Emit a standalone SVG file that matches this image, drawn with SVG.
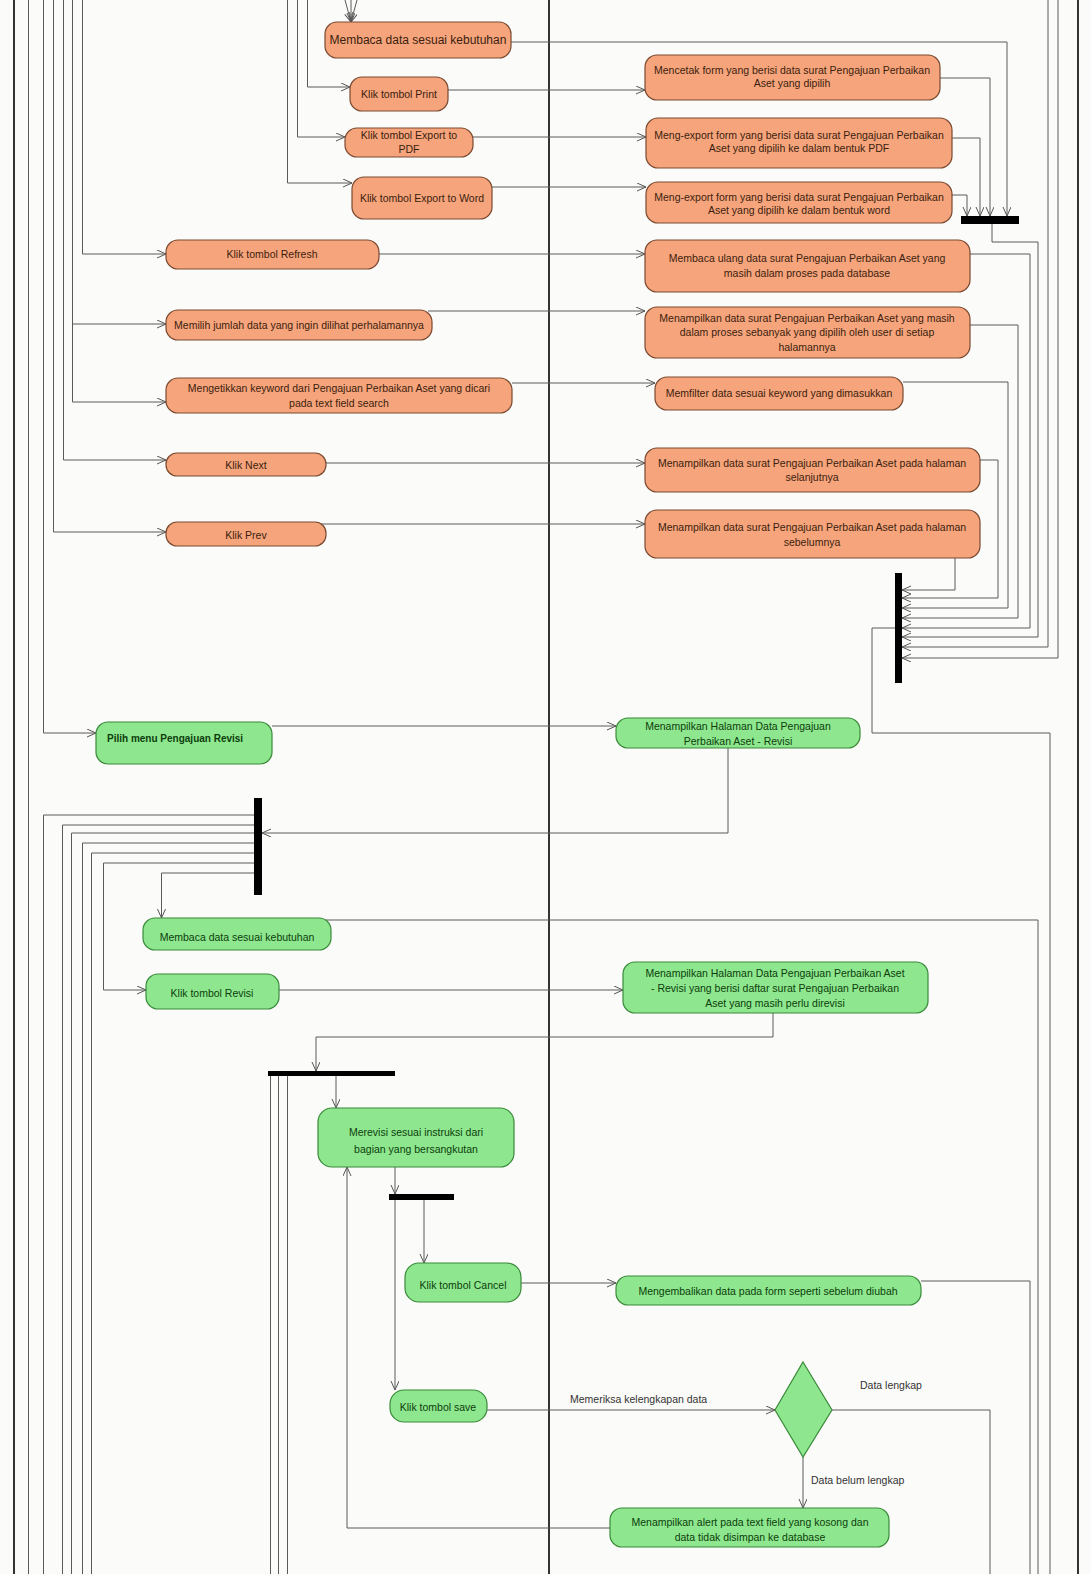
<svg xmlns="http://www.w3.org/2000/svg" width="1091" height="1574" viewBox="0 0 1091 1574">
<style>
.lane{stroke:#333;stroke-width:2;fill:none}
.c{stroke:#5a5a5a;stroke-width:1;fill:none;marker-end:url(#a)}
.cn{stroke:#5a5a5a;stroke-width:1;fill:none}
.o{fill:#f6a47c;stroke:#7a4a30;stroke-width:1.2}
.g{fill:#8ee78e;stroke:#3a8a3a;stroke-width:1.2}
.bar{fill:#000}
text{font-family:"Liberation Sans",Arial,sans-serif;font-size:10.5px}
.to{fill:#3b1e0e;text-anchor:middle}
.tg{fill:#0d3d0d;text-anchor:middle}
.lbl{fill:#333;font-size:10.5px}
</style>
<defs>
<marker id="a" markerWidth="10" markerHeight="10" refX="9" refY="4" orient="auto" markerUnits="userSpaceOnUse"><path d="M0,0 L9,4 L0,8" fill="none" stroke="#555" stroke-width="1"/></marker>
</defs>
<rect x="0" y="0" width="1091" height="1574" fill="#fbfbf9"/>
<g id="lanes">
<line class="lane" x1="14" y1="0" x2="14" y2="1574"/>
<line class="lane" x1="549" y1="0" x2="549" y2="1574"/>
<line class="lane" x1="1078" y1="0" x2="1078" y2="1574"/>
</g>
<g id="connectors">
<path class="cn" d="M28.5,0 V1574"/>
<path class="c" d="M43.5,0 V733 H96"/>
<path class="c" d="M53.5,0 V532 H166"/>
<path class="c" d="M63.5,0 V460 H166"/>
<path class="c" d="M72.5,0 V402 H166"/>
<path class="c" d="M72.5,324 H166"/>
<path class="c" d="M82.5,0 V254 H166"/>
<path class="c" d="M287.5,0 V183 H352"/>
<path class="c" d="M297.5,0 V137 H345"/>
<path class="c" d="M307.5,0 V87 H350"/>
<path class="c" d="M345,0 L351,22"/>
<path class="c" d="M351,0 V22"/>
<path class="c" d="M357,0 L351,22"/>
<path class="c" d="M511,42 H1007 V216"/>
<path class="c" d="M448,90 H645"/>
<path class="c" d="M473,137 H646"/>
<path class="c" d="M492,187 H646"/>
<path class="c" d="M940,78 H990 V216"/>
<path class="c" d="M952,138 H980 V216"/>
<path class="c" d="M952,195 H967 V216"/>
<path class="c" d="M992,224 V242 H1038 V637 H902"/>
<path class="c" d="M379,254 H645"/>
<path class="c" d="M428,311 H645"/>
<path class="c" d="M512,383 H655"/>
<path class="c" d="M326,463 H645"/>
<path class="c" d="M318,524 H645"/>
<path class="c" d="M970,254 H1030 V628 H902"/>
<path class="c" d="M970,325 H1018 V618 H902"/>
<path class="c" d="M903,382 H1008 V608 H902"/>
<path class="c" d="M980,460 H998 V598 H902"/>
<path class="c" d="M955,558 V590 H902"/>
<path class="c" d="M1048,0 V647 H902"/>
<path class="c" d="M1058,0 V658 H902"/>
<path class="cn" d="M895,628 H872 V733 H1050 V1574"/>
<path class="c" d="M272,726 H616"/>
<path class="c" d="M728,748 V833 H262"/>
<path class="cn" d="M254,815 H43.5 V1574"/>
<path class="cn" d="M254,825 H62.5 V1574"/>
<path class="cn" d="M254,833 H71.5 V1574"/>
<path class="cn" d="M254,843 H82.5 V1574"/>
<path class="cn" d="M254,853 H91.5 V1574"/>
<path class="c" d="M254,863 H103.5 V990 H146"/>
<path class="c" d="M254,873 H161.5 V918"/>
<path class="cn" d="M326,920 H1038 V1574"/>
<path class="c" d="M279,990 H623"/>
<path class="c" d="M773,1013 V1037 H316 V1071"/>
<path class="c" d="M336,1076 V1108"/>
<path class="cn" d="M270.5,1076 V1574"/>
<path class="cn" d="M278.5,1076 V1574"/>
<path class="cn" d="M287.5,1076 V1574"/>
<path class="c" d="M395,1167 V1194"/>
<path class="c" d="M395,1200 V1390"/>
<path class="c" d="M424,1200 V1263"/>
<path class="c" d="M521,1283 H616"/>
<path class="cn" d="M921,1281 H1030 V1574"/>
<path class="c" d="M487,1410 H775"/>
<path class="cn" d="M832,1410 H990 V1574"/>
<path class="c" d="M803,1457 V1508"/>
<path class="c" d="M610,1528 H347 V1167"/>
<text class="lbl" x="570" y="1403">Memeriksa kelengkapan data</text>
<text class="lbl" x="860" y="1389">Data lengkap</text>
<text class="lbl" x="811" y="1484">Data belum lengkap</text>
</g>
<g id="O1"><rect class="o" x="325" y="22" width="186" height="36" rx="12"/><text class="to" x="418" y="44" style="font-size:12px">Membaca data sesuai kebutuhan</text></g>
<g id="O2"><rect class="o" x="350" y="77" width="98" height="34" rx="12"/><text class="to" x="399" y="98">Klik tombol Print</text></g>
<g id="O3"><rect class="o" x="345" y="128" width="128" height="29" rx="12"/><text class="to" x="409" y="139">Klik tombol Export to</text><text class="to" x="409" y="153">PDF</text></g>
<g id="O4"><rect class="o" x="352" y="177" width="140" height="42" rx="12"/><text class="to" x="422" y="202">Klik tombol Export to Word</text></g>
<g id="R1"><rect class="o" x="645" y="55" width="295" height="45" rx="12"/><text class="to" x="792" y="74">Mencetak form yang berisi data surat Pengajuan Perbaikan</text><text class="to" x="792" y="87">Aset yang dipilih</text></g>
<g id="R2"><rect class="o" x="646" y="118" width="306" height="50" rx="12"/><text class="to" x="799" y="139">Meng-export form yang berisi data surat Pengajuan Perbaikan</text><text class="to" x="799" y="152">Aset yang dipilih ke dalam bentuk PDF</text></g>
<g id="R3"><rect class="o" x="646" y="182" width="306" height="41" rx="12"/><text class="to" x="799" y="201">Meng-export form yang berisi data surat Pengajuan Perbaikan</text><text class="to" x="799" y="214">Aset yang dipilih ke dalam bentuk word</text></g>
<g id="join1"><rect class="bar" x="961" y="216" width="58" height="8"/></g>
<g id="O5"><rect class="o" x="166" y="240" width="213" height="29" rx="12"/><text class="to" x="272" y="258">Klik tombol Refresh</text></g>
<g id="R4"><rect class="o" x="645" y="240" width="325" height="52" rx="12"/><text class="to" x="807" y="262">Membaca ulang data surat Pengajuan Perbaikan Aset yang</text><text class="to" x="807" y="277">masih dalam proses pada database</text></g>
<g id="O6"><rect class="o" x="166" y="310" width="266" height="30" rx="12"/><text class="to" x="299" y="329">Memilih jumlah data yang ingin dilihat perhalamannya</text></g>
<g id="R5"><rect class="o" x="645" y="307" width="325" height="51" rx="12"/><text class="to" x="807" y="322">Menampilkan data surat Pengajuan Perbaikan Aset yang masih</text><text class="to" x="807" y="336">dalam proses sebanyak yang dipilih oleh user di setiap</text><text class="to" x="807" y="351">halamannya</text></g>
<g id="O7"><rect class="o" x="166" y="378" width="346" height="35" rx="12"/><text class="to" x="339" y="392">Mengetikkan keyword dari Pengajuan Perbaikan Aset yang dicari</text><text class="to" x="339" y="407">pada text field search</text></g>
<g id="R6"><rect class="o" x="655" y="377" width="248" height="33" rx="12"/><text class="to" x="779" y="397">Memfilter data sesuai keyword yang dimasukkan</text></g>
<g id="O8"><rect class="o" x="166" y="453" width="160" height="23" rx="11"/><text class="to" x="246" y="469">Klik Next</text></g>
<g id="R7"><rect class="o" x="645" y="448" width="335" height="44" rx="12"/><text class="to" x="812" y="467">Menampilkan data surat Pengajuan Perbaikan Aset pada halaman</text><text class="to" x="812" y="481">selanjutnya</text></g>
<g id="O9"><rect class="o" x="166" y="522" width="160" height="24" rx="11"/><text class="to" x="246" y="539">Klik Prev</text></g>
<g id="R8"><rect class="o" x="645" y="510" width="335" height="48" rx="12"/><text class="to" x="812" y="531">Menampilkan data surat Pengajuan Perbaikan Aset pada halaman</text><text class="to" x="812" y="546">sebelumnya</text></g>
<g id="join2"><rect class="bar" x="895" y="573" width="7" height="110"/></g>
<g id="G1"><rect class="g" x="96" y="722" width="176" height="42" rx="12"/><text x="107" y="742" style="fill:#0d3d0d;font-weight:bold;font-size:10px">Pilih menu Pengajuan Revisi</text></g>
<g id="G2"><rect class="g" x="616" y="718" width="244" height="30" rx="12"/><text class="tg" x="738" y="730">Menampilkan Halaman Data Pengajuan</text><text class="tg" x="738" y="745">Perbaikan Aset - Revisi</text></g>
<g id="fork3"><rect class="bar" x="254" y="798" width="8" height="97"/></g>
<g id="G3"><rect class="g" x="143" y="918" width="188" height="32" rx="12"/><text class="tg" x="237" y="941">Membaca data sesuai kebutuhan</text></g>
<g id="G4"><rect class="g" x="146" y="974" width="133" height="35" rx="12"/><text class="tg" x="212" y="997">Klik tombol Revisi</text></g>
<g id="G5"><rect class="g" x="623" y="962" width="305" height="51" rx="12"/><text class="tg" x="775" y="977">Menampilkan Halaman Data Pengajuan Perbaikan Aset</text><text class="tg" x="775" y="992">- Revisi yang berisi daftar surat Pengajuan Perbaikan</text><text class="tg" x="775" y="1007">Aset yang masih perlu direvisi</text></g>
<g id="fork4"><rect class="bar" x="268" y="1071" width="127" height="5"/></g>
<g id="G6"><rect class="g" x="318" y="1108" width="196" height="59" rx="14"/><text class="tg" x="416" y="1136">Merevisi sesuai instruksi dari</text><text class="tg" x="416" y="1153">bagian yang bersangkutan</text></g>
<g id="fork5"><rect class="bar" x="389" y="1194" width="65" height="6"/></g>
<g id="G7"><rect class="g" x="405" y="1263" width="116" height="39" rx="14"/><text class="tg" x="463" y="1289">Klik tombol Cancel</text></g>
<g id="G8"><rect class="g" x="616" y="1276" width="305" height="29" rx="12"/><text class="tg" x="768" y="1295">Mengembalikan data pada form seperti sebelum diubah</text></g>
<g id="G9"><rect class="g" x="390" y="1390" width="97" height="32" rx="14"/><text class="tg" x="438" y="1411">Klik tombol save</text></g>
<g id="D1"><polygon class="g" points="803,1362 832,1410 803,1457 775,1410"/></g>
<g id="G10"><rect class="g" x="610" y="1508" width="279" height="39" rx="12"/><text class="tg" x="750" y="1526">Menampilkan alert pada text field yang kosong dan</text><text class="tg" x="750" y="1541">data tidak disimpan ke database</text></g>
</svg>
